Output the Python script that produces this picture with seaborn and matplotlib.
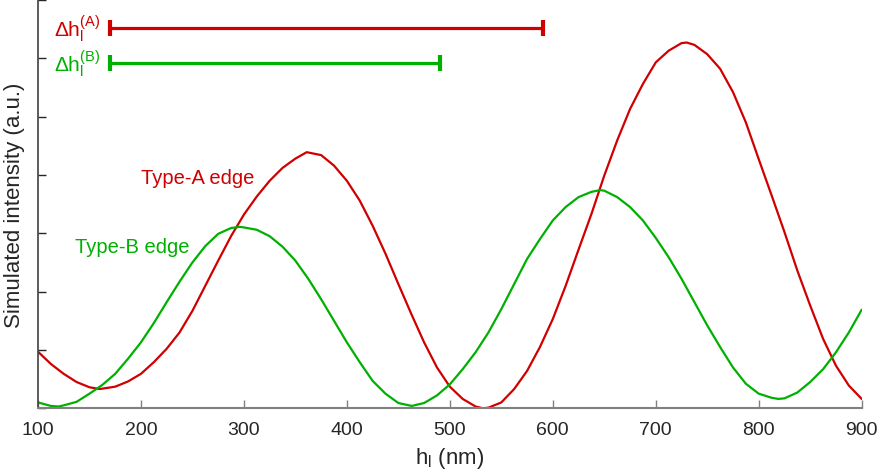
import matplotlib
matplotlib.use('Agg')
import matplotlib.pyplot as plt
import seaborn as sns
import pandas as pd

# simulated intensity vs h_l
hl_a = [100, 112.5, 125, 137.5, 150, 160, 175, 187.5, 200, 212.5, 225, 237.5, 250, 262.5,
        275, 287.5, 300, 312.5, 325, 337.5, 350, 361, 375, 387.5, 400, 412.5, 425, 437.5,
        450, 462.5, 475, 487.5, 500, 512.5, 525, 532, 537.5, 550, 562.5, 575, 587.5, 600,
        612.5, 625, 637.5, 650, 662.5, 675, 687.5, 700, 712.5, 725, 730, 737.5, 750, 762.5,
        775, 787.5, 800, 812.5, 825, 837.5, 850, 862.5, 875, 887.5, 900]
int_a = [0.97, 0.76, 0.59, 0.45, 0.36, 0.33, 0.37, 0.46, 0.59, 0.79, 1.02, 1.30, 1.67, 2.10,
         2.53, 2.95, 3.32, 3.63, 3.90, 4.12, 4.28, 4.39, 4.34, 4.16, 3.90, 3.56, 3.13, 2.65,
         2.13, 1.62, 1.13, 0.70, 0.37, 0.16, 0.03, 0.0, 0.01, 0.10, 0.33, 0.64, 1.05, 1.53,
         2.10, 2.72, 3.33, 3.99, 4.59, 5.13, 5.56, 5.93, 6.13, 6.26, 6.27, 6.23, 6.07, 5.82,
         5.42, 4.90, 4.27, 3.65, 3.02, 2.36, 1.76, 1.19, 0.73, 0.39, 0.16]

hl_b = [100, 112.5, 120, 125, 137.5, 150, 162.5, 175, 187.5, 200, 212.5, 225, 237.5, 250,
        262.5, 275, 287.5, 296, 300, 312.5, 325, 337.5, 350, 362.5, 375, 387.5, 400, 412.5,
        425, 437.5, 450, 463, 475, 487.5, 500, 512.5, 525, 537.5, 550, 562.5, 575, 587.5,
        600, 612.5, 625, 637.5, 646, 650, 662.5, 675, 687.5, 700, 712.5, 725, 737.5, 750,
        762.5, 775, 787.5, 800, 812.5, 819, 825, 837.5, 850, 862.5, 875, 887.5, 900]
int_b = [0.10, 0.04, 0.03, 0.05, 0.11, 0.25, 0.40, 0.59, 0.85, 1.13, 1.46, 1.82, 2.17, 2.50,
         2.78, 2.99, 3.09, 3.11, 3.10, 3.06, 2.95, 2.77, 2.53, 2.22, 1.87, 1.50, 1.13, 0.79,
         0.47, 0.25, 0.09, 0.04, 0.09, 0.22, 0.41, 0.67, 0.96, 1.30, 1.70, 2.13, 2.56, 2.90,
         3.22, 3.45, 3.62, 3.71, 3.74, 3.73, 3.62, 3.45, 3.22, 2.92, 2.59, 2.22, 1.82, 1.42,
         1.05, 0.70, 0.42, 0.25, 0.18, 0.16, 0.17, 0.27, 0.45, 0.67, 0.96, 1.30, 1.69]

# Δh_l ranges (start, end, height)
dh_a = (170, 590, 6.52)
dh_b = (170, 490, 5.92)

red = '#d00000'
green = '#00b000'

sns.set_theme(style='ticks')
plt.rcParams['font.family'] = ['Liberation Sans', 'DejaVu Sans']
plt.rcParams['mathtext.fontset'] = 'custom'
plt.rcParams['mathtext.rm'] = 'Liberation Sans'
plt.rcParams['mathtext.it'] = 'Liberation Sans:italic'

df_a = pd.DataFrame({'hl': hl_a, 'I': int_a})
df_b = pd.DataFrame({'hl': hl_b, 'I': int_b})

fig = plt.figure(figsize=(8.81, 4.77), dpi=100)
ax = fig.add_axes([0.0431, 0.142, 0.935, 0.856])

sns.lineplot(data=df_a, x='hl', y='I', color=red, lw=1.6, ax=ax)
sns.lineplot(data=df_b, x='hl', y='I', color=green, lw=1.6, ax=ax)

# Δh bars with end caps
for (x0, x1, y), c, lab in [(dh_a, red, 'A'), (dh_b, green, 'B')]:
    ax.plot([x0, x1], [y, y], color=c, lw=2.3, marker='|', markersize=11, mew=3,
            solid_capstyle='butt')
    ax.text(x0 - 9, y, r'$\mathrm{\Delta h_l^{(%s)}}$' % lab, color=c, fontsize=15,
            ha='right', va='center')

ax.text(200, 3.96, 'Type-A edge', color=red, fontsize=14.5, ha='left', va='center')
ax.text(136, 2.78, 'Type-B edge', color=green, fontsize=14.5, ha='left', va='center')

ax.set_xlim(100, 900)
ax.set_ylim(0, 7)
ax.set_xticks(range(100, 901, 100))
ax.set_yticks(range(0, 8))
ax.set_yticklabels([])
ax.set_xlabel(r'$\mathrm{h_l}$ (nm)', fontsize=16, color='#262626', labelpad=5)
ax.set_ylabel('Simulated intensity (a.u.)', fontsize=16, color='#262626', labelpad=6)

ax.tick_params(axis='both', direction='in', length=6, width=1, labelsize=14,
               colors='#262626')
ax.tick_params(axis='x', color='#808080', pad=9)
ax.spines['top'].set_visible(False)
ax.spines['right'].set_visible(False)
ax.spines['bottom'].set_color('#808080')
ax.spines['bottom'].set_linewidth(1.5)
ax.spines['left'].set_color('#404040')
ax.spines['left'].set_linewidth(1.2)

fig.savefig('out.png', dpi=100, facecolor='white')
